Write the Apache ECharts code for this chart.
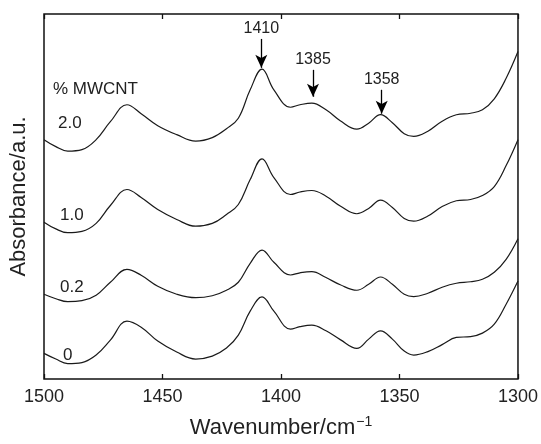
<!DOCTYPE html>
<html>
<head>
<meta charset="utf-8">
<script src="https://cdn.jsdelivr.net/npm/echarts@6/dist/echarts.min.js"></script>
<style>
html,body{margin:0;padding:0;background:#fff;}
#chart{width:541px;height:444px;}
</style>
</head>
<body>
<div id="chart"></div>
<script>
// Wavenumbers (cm^-1)
const wavenumbers = [1500,1495,1490,1484,1478,1472,1465,1459,1452,1444,1436,1429,1423,1418,1413,1408,1403,1396,1392,1387,1381,1375,1368,1363,1358,1353,1348,1344,1338,1332,1326,1320,1315,1310,1305,1300];

// Absorbance (a.u., offset stacked)
const mw20 = [2.40,2.33,2.285,2.30,2.40,2.58,2.75,2.66,2.54,2.45,2.385,2.42,2.51,2.615,2.90,3.107,2.90,2.725,2.75,2.767,2.70,2.59,2.505,2.565,2.65,2.57,2.46,2.433,2.485,2.585,2.65,2.665,2.70,2.81,3.015,3.283];
const mw10 = [1.573,1.505,1.467,1.48,1.56,1.74,1.90,1.82,1.70,1.60,1.532,1.56,1.65,1.75,2.00,2.207,2.02,1.85,1.875,1.89,1.833,1.735,1.657,1.71,1.793,1.72,1.61,1.583,1.635,1.73,1.787,1.80,1.84,1.93,2.14,2.40];
const mw02 = [0.85,0.805,0.775,0.785,0.84,0.97,1.10,1.04,0.93,0.85,0.815,0.835,0.89,0.97,1.16,1.293,1.17,1.043,1.065,1.077,1.017,0.945,0.89,0.95,1.023,0.95,0.85,0.827,0.86,0.92,0.96,0.975,1.00,1.07,1.20,1.407];
const mw00 = [0.257,0.20,0.155,0.165,0.24,0.39,0.58,0.52,0.38,0.27,0.20,0.23,0.31,0.44,0.68,0.823,0.68,0.50,0.525,0.54,0.483,0.395,0.307,0.40,0.483,0.40,0.28,0.24,0.275,0.345,0.417,0.425,0.46,0.55,0.75,0.983];

const seriesNames = ['2.0','1.0','0.2','0'];
const xTicks = [1500,1450,1400,1350,1300];

// Peak annotations: label, wavenumber, arrow start, arrow end (absorbance units)
const peakLabels = ['1410','1385','1358'];
const peakX = [1408.3,1386.5,1357.5];
const arrowTop = [3.41,3.10,2.90];
const arrowTip = [3.12,2.83,2.66];

const pair = d => wavenumbers.map((w,i)=>[w,d[i]]);
const allData = [mw20,mw10,mw02,mw00];

const chart = echarts.init(document.getElementById('chart'), null, {renderer:'canvas'});
const FONT = 'Liberation Sans, Arial, Helvetica, sans-serif';

const series = allData.map((d,k)=>({
  type:'line',
  name: seriesNames[k],
  data: pair(d),
  smooth: 0.4,
  showSymbol:false,
  lineStyle:{color:'#1a1a1a',width:1.2},
  silent:true,
  animation:false
}));

series[0].markLine = {
  silent:true,
  animation:false,
  symbol:['none','arrow'],
  symbolSize:[9,13],
  lineStyle:{color:'#000',width:1.3,type:'solid'},
  label:{show:true,position:'start',formatter:'{b}',color:'#222',fontSize:16,fontFamily:FONT,distance:2},
  data: peakLabels.map((t,i)=>[
    {name:t, coord:[peakX[i],arrowTop[i]]},
    {coord:[peakX[i],arrowTip[i]]}
  ])
};

const labelPos = [[58,123.5],[60,215],[60,287.5],[63,355]];
const graphics = [{type:'text',left:53,top:81,style:{text:'% MWCNT',fill:'#222',font:'17px '+FONT}}]
  .concat(seriesNames.map((n,k)=>({type:'text',x:labelPos[k][0],y:labelPos[k][1],
     style:{text:n,fill:'#222',font:'17px '+FONT,textVerticalAlign:'middle'}})));

chart.setOption({
  animation:false,
  backgroundColor:'#fff',
  grid:{left:44,right:23,top:14,bottom:64,show:true,borderColor:'#111',borderWidth:1.5,containLabel:false},
  xAxis:[{
    type:'value',inverse:true,min:1300,max:1500,interval:50,
    axisLine:{show:false},
    axisTick:{show:true,inside:true,length:5,lineStyle:{color:'#111',width:1.3}},
    axisLabel:{color:'#222',fontSize:18,fontFamily:FONT,margin:9,
      formatter:v=>xTicks.includes(v)?String(v):''},
    splitLine:{show:false},
    name:'{a|Wavenumber/cm}{b|−1}',
    nameLocation:'middle',nameGap:36,
    nameTextStyle:{rich:{a:{fontSize:22,fontFamily:FONT,color:'#222'},b:{fontSize:14,fontFamily:FONT,color:'#222',verticalAlign:'top',padding:[0,0,12,1]}}}
  },{
    type:'value',inverse:true,min:1300,max:1500,interval:50,position:'top',
    axisLine:{show:false},
    axisTick:{show:true,inside:true,length:5,lineStyle:{color:'#111',width:1.3}},
    axisLabel:{show:false},splitLine:{show:false}
  }],
  yAxis:{
    type:'value',min:0,max:3.66,
    axisLine:{show:false},axisTick:{show:false},axisLabel:{show:false},splitLine:{show:false},
    name:'Absorbance/a.u.',nameLocation:'middle',nameGap:14,
    nameTextStyle:{fontSize:22,fontFamily:FONT,color:'#222'}
  },
  graphic:graphics,
  series:series
});
</script>
</body>
</html>
